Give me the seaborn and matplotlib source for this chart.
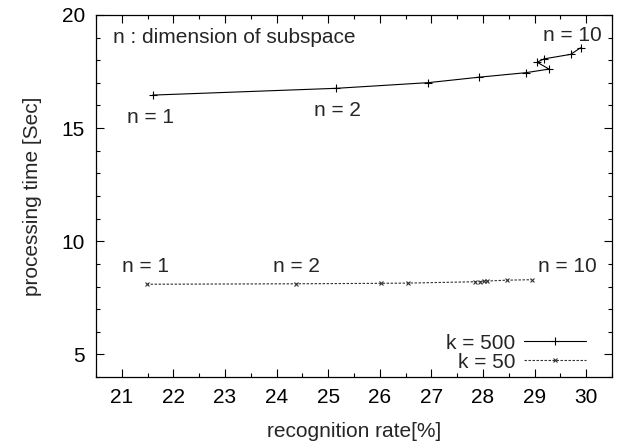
import numpy as np
import pandas as pd
import seaborn as sns
import matplotlib.pyplot as plt
from matplotlib.ticker import MultipleLocator

# recognition rate [%] and processing time [Sec] for n = 1..10
rate_500 = [21.60, 25.16, 26.94, 27.92, 28.83, 29.28, 29.05, 29.18, 29.70, 29.89]
time_500 = [16.46, 16.76, 17.01, 17.25, 17.45, 17.61, 17.91, 18.06, 18.26, 18.55]
rate_50 = [21.48, 24.38, 26.02, 26.54, 27.85, 27.95, 28.02, 28.07, 28.46, 28.94]
time_50 = [8.10, 8.12, 8.14, 8.15, 8.21, 8.22, 8.23, 8.24, 8.28, 8.30]

sns.set_style("ticks")
plt.rcParams['font.family'] = ['Liberation Sans', 'DejaVu Sans']
fs = 15

fig = plt.figure(figsize=(6.18, 4.48), dpi=100)
ax = fig.add_axes([96 / 618, 71 / 448, 516 / 618, 362 / 448])

df500 = pd.DataFrame({'rate': rate_500, 'time': time_500})
df50 = pd.DataFrame({'rate': rate_50, 'time': time_50})

sns.lineplot(data=df500, x='rate', y='time', sort=False, ax=ax, color='black',
             lw=0.8, label='k = 500')
sns.lineplot(data=df50, x='rate', y='time', sort=False, ax=ax, color='#333333',
             lw=0.8, label='k = 50')

# seaborn gives markers a white edge; '+' and 'x' need a dark one
l500, l50 = ax.lines[0], ax.lines[1]
l500.set_marker('+'); l500.set_markersize(5.5); l500.set_markeredgewidth(0.8)
l500.set_markeredgecolor('black')
l500.set_linestyle('-')
l50.set_marker('x'); l50.set_markersize(3.5); l50.set_markeredgewidth(0.8)
l50.set_markeredgecolor('#333333')
l50.set_linestyle((0, (2.2, 1.4)))

ax.set_xlim(20.5, 30.5)
ax.set_ylim(4, 20)
ax.xaxis.set_major_locator(MultipleLocator(1))
ax.xaxis.set_minor_locator(MultipleLocator(0.5))
ax.yaxis.set_major_locator(MultipleLocator(5))
ax.yaxis.set_minor_locator(MultipleLocator(1))
ax.set_yticks([5, 10, 15, 20])
ax.tick_params(which='both', direction='in', top=True, right=True, colors='black',
               labelsize=fs, width=0.8)
ax.tick_params(which='major', length=6, pad=8)
ax.tick_params(which='minor', length=3)
for s in ax.spines.values():
    s.set_color('black')
    s.set_linewidth(0.9)

ax.set_xlabel('recognition rate[%]', fontsize=fs, labelpad=11)
ax.set_ylabel('processing time [Sec]', fontsize=fs, labelpad=14)

ax.text(20.83, 19.0, 'n : dimension of subspace', ha='left', va='center', fontsize=fs)
ax.text(21.55, 15.45, 'n = 1', ha='center', va='center', fontsize=fs)
ax.text(25.18, 15.8, 'n = 2', ha='center', va='center', fontsize=fs)
ax.text(29.74, 19.1, 'n = 10', ha='center', va='center', fontsize=fs)
ax.text(21.45, 8.88, 'n = 1', ha='center', va='center', fontsize=fs)
ax.text(24.38, 8.88, 'n = 2', ha='center', va='center', fontsize=fs)
ax.text(29.63, 8.88, 'n = 10', ha='center', va='center', fontsize=fs)

ax.legend(handles=[l500, l50], labels=['k = 500', 'k = 50'], loc='lower right',
          bbox_to_anchor=(0.95, 0.015), frameon=False, markerfirst=False,
          fontsize=fs, handlelength=3.0, borderpad=0, borderaxespad=0,
          labelspacing=0.0, handletextpad=0.4)

fig.savefig('out.png', dpi=100)
